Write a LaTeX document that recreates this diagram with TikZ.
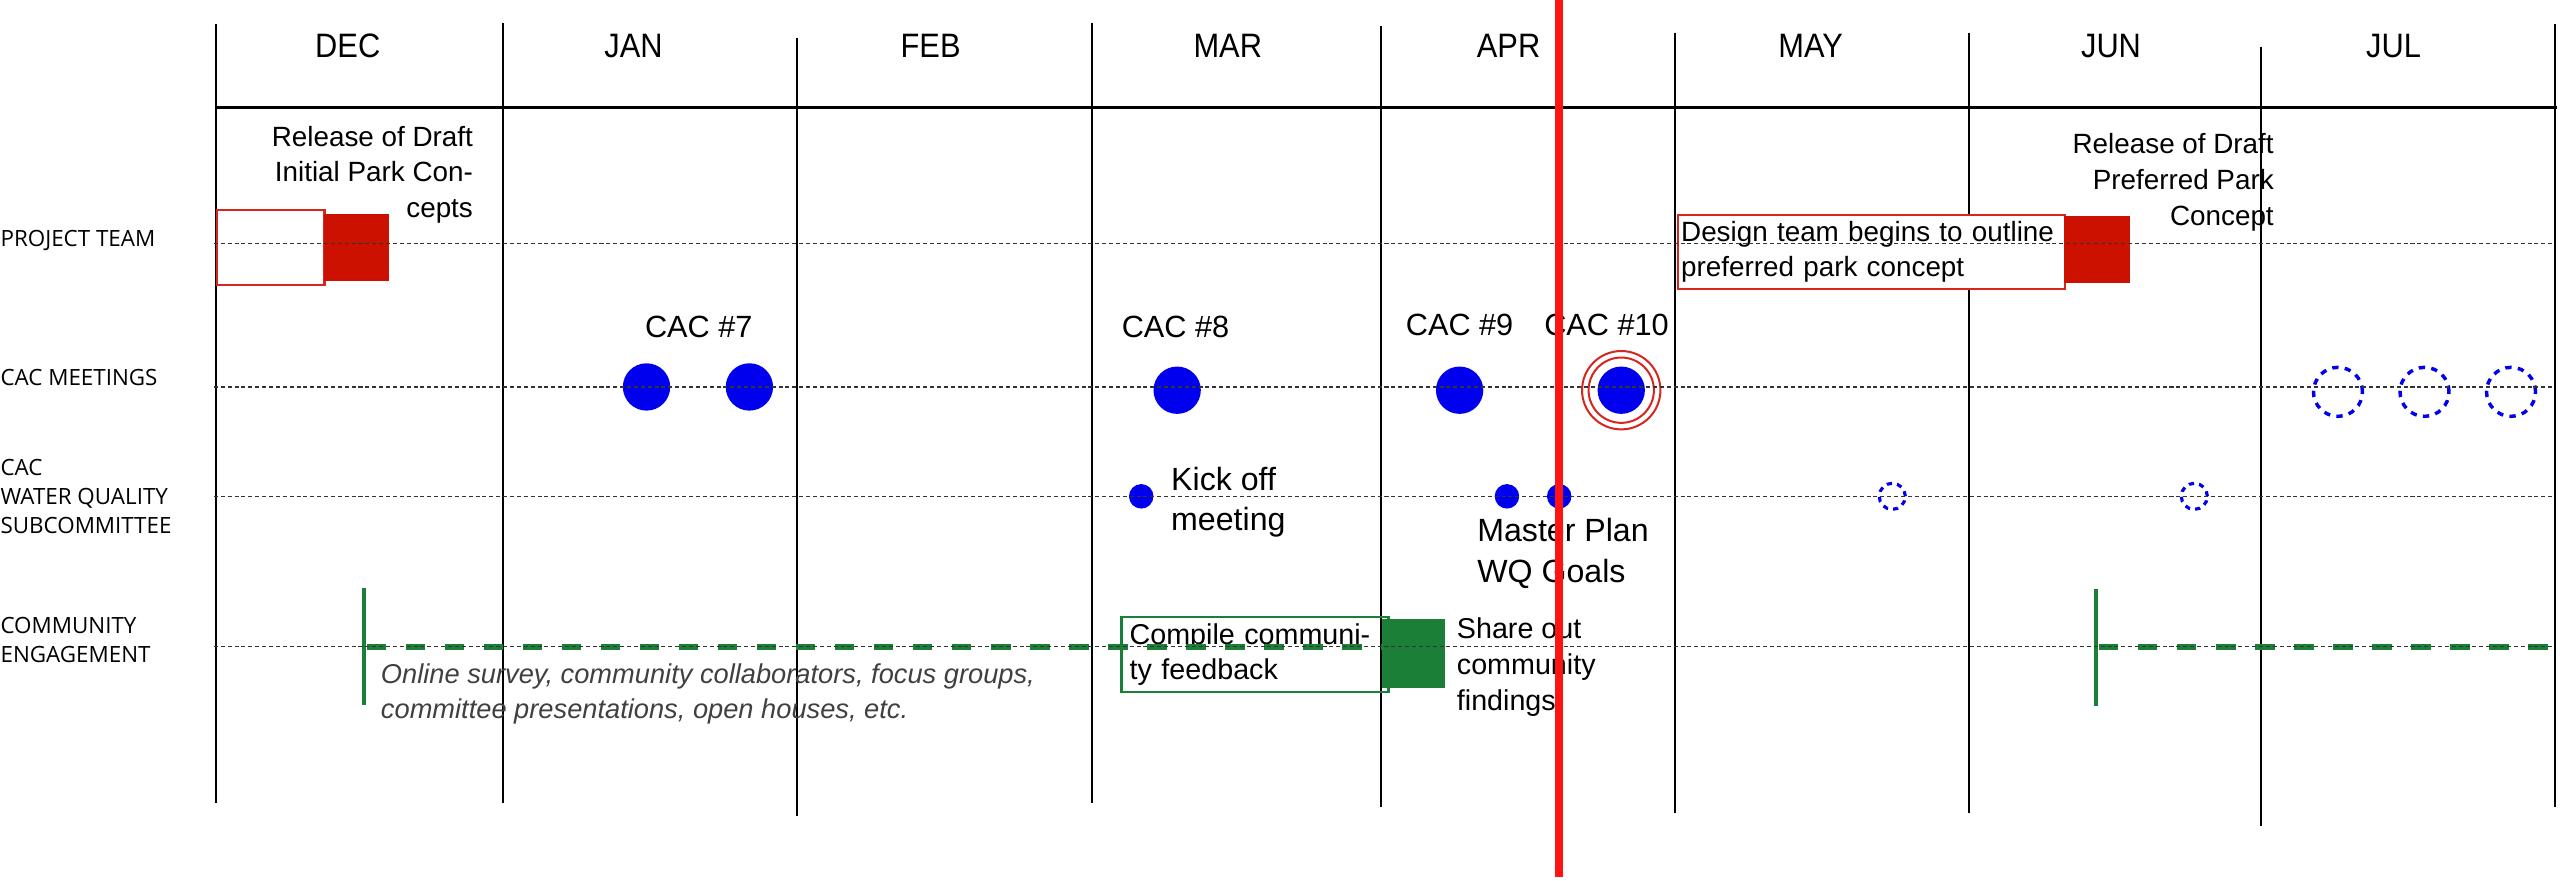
\documentclass[tikz,border=0pt]{standalone}
\usepackage{fontspec}
\setmainfont{Liberation Sans}
\newfontfamily\monthfont{Liberation Sans}[FakeStretch=0.91]
\newfontfamily\labelfont{Open Sans}
\definecolor{teamred}{RGB}{204,17,0}
\definecolor{boxred}{RGB}{214,38,32}
\definecolor{nowred}{RGB}{255,20,20}
\definecolor{cacblue}{RGB}{0,0,238}
\definecolor{enggreen}{RGB}{27,127,55}
\tikzset{
  monthline/.style={line width=0.7pt},
  headline/.style={line width=1.1pt},
  rowline/.style={line width=0.5pt, black!80, dash pattern=on 1.4pt off 1pt},
  nowline/.style={line width=2.8pt, nowred},
  monthname/.style={inner sep=0pt, font=\monthfont\fontsize{11.8}{14}\selectfont},
  rowlabel/.style={anchor=west, inner sep=0pt, align=left, font=\labelfont\fontsize{7.8}{10}\selectfont},
  note/.style={inner sep=0pt, font=\fontsize{9.7}{12.5}\selectfont},
  bignote/.style={inner sep=0pt, anchor=west, align=left, font=\fontsize{11.2}{14}\selectfont},
  caclabel/.style={inner sep=0pt, font=\fontsize{10.7}{13}\selectfont},
  draftbox/.style={draw=boxred, line width=0.8pt, fill=white, inner sep=0pt, anchor=north west},
  release/.style={fill=teamred, inner sep=0pt, minimum width=8mm, minimum height=8.2mm, anchor=north west},
  meeting/.style={circle, fill=cacblue, inner sep=0pt, minimum size=5.8mm},
  nextmeeting/.style={circle, draw=cacblue, line width=1.2pt, dash pattern=on 2.2pt off 2.2pt, inner sep=0pt, minimum size=6mm},
  ring/.style={draw=boxred, line width=0.7pt},
  wqdot/.style={circle, fill=cacblue, inner sep=0pt, minimum size=3mm},
  wqnext/.style={circle, draw=cacblue, line width=1.1pt, dash pattern=on 1.8pt off 1.8pt, inner sep=0pt, minimum size=3.2mm},
  engbar/.style={fill=enggreen, inner sep=0pt, minimum width=1.4pt, minimum height=14.4mm},
  engage/.style={enggreen, line width=2.1pt, dash pattern=on 6.8pt off 6.8pt},
  compilebox/.style={draw=enggreen, line width=1pt, inner xsep=1mm, inner ysep=0pt, text width=30.7mm, minimum height=9.2mm, align=left, anchor=north west, font=\fontsize{10}{12.4}\selectfont},
  sharebox/.style={fill=enggreen, inner sep=0pt, minimum width=7.7mm, minimum height=8.4mm, anchor=north west},
  survey/.style={inner sep=0pt, anchor=west, align=left, text=black!75, font=\fontsize{9.5}{12.2}\selectfont\itshape}
}
\newcommand{\drawrowlabel}[3]{
  \node[rowlabel] (#1) at (0,#2) {#3};
}
\newcommand{\drawrelease}[3]{
  \node[release] (#1) at (#2,#3) {};
}
\newcommand{\drawmeeting}[3]{
  \node[meeting] (#1) at (#2,#3) {};
}

\begin{document}
\begin{tikzpicture}[x=0.2mm, y=-0.2mm]
  \useasboundingbox (0,0) rectangle (1568,539);
  % months
  \foreach \x/\t/\b in {132/15/492, 308/14/492, 488/23/500, 669/14/492, 846/16/494, 1026/20/498, 1206/20/498, 1385/29/506, 1565/15/494}
    \draw[monthline] (\x,\t) -- (\x,\b);
  \draw[headline] (132,66) -- (1566,66);
  \foreach \m/\x in {DEC/213, JAN/388, FEB/570, MAR/752, APR/924, MAY/1109, JUN/1293, JUL/1466}
    \node[monthname] (\m) at (\x,28) {\m};

  \drawrowlabel{team}{147}{PROJECT TEAM}
  \drawrowlabel{meetings}{231}{CAC MEETINGS}
  \drawrowlabel{wq}{304}{CAC\\WATER QUALITY\\SUBCOMMITTEE}
  \drawrowlabel{engagement}{392}{COMMUNITY\\ENGAGEMENT}

  % project team
  \node[draftbox, minimum width=13.2mm, minimum height=9.2mm] (initial) at (132,128) {};
  \drawrelease{initialrel}{198}{131}
  \node[note, anchor=east, align=right] (initialtxt) at (290,107) {Release of Draft\\Initial Park Con-\\cepts};
  \node[draftbox, inner xsep=0.4mm, text width=46.6mm, minimum height=9.1mm, align=left, font=\fontsize{9.7}{12.2}\selectfont] (design) at (1027,131) {Design team begins to outline\\preferred park concept};
  \drawrelease{preferredrel}{1264}{132}
  \node[note, anchor=east, align=right] (preferredtxt) at (1393,111.5) {Release of Draft\\Preferred Park\\Concept};

  % cac meetings
  \drawmeeting{cacseven}{396}{237}
  \drawmeeting{cacsevenb}{459}{237}
  \drawmeeting{caceight}{721}{239}
  \drawmeeting{cacnine}{894}{239}
  \drawmeeting{cacten}{993}{239}
  \draw[ring] (cacten.center) circle[radius=4mm] (cacten.center) circle[radius=4.8mm];
  \node[caclabel] (lab7) at (428,200) {CAC \#7};
  \node[caclabel] (lab8) at (720,200) {CAC \#8};
  \node[caclabel] (lab9) at (894,199) {CAC \#9};
  \node[caclabel] (lab10) at (984,199) {CAC \#10};
  \foreach \x [count=\i] in {1432,1485,1538}
    \node[nextmeeting] (next\i) at (\x,240) {};

  % water quality
  \node[wqdot] (kickoff) at (699,304) {};
  \node[wqdot] (goals1) at (923,304) {};
  \node[wqdot] (goals2) at (955,304) {};
  \node[wqnext] (wqnext1) at (1159,304) {};
  \node[wqnext] (wqnext2) at (1344,304) {};
  \node[bignote] (kicktxt) at (717,307.5) {Kick off\\meeting};
  \node[bignote] (goalstxt) at (904.5,339) {Master Plan\\WQ Goals};

  % community engagement
  \node[engbar] (start1) at (223,396) {};
  \node[compilebox] (compile) at (686,377) {Compile communi-\\ty feedback};
  \node[sharebox] (share) at (846,379) {};
  \draw[engage] (start1) -- (start1 -| share.west);
  \node[note, anchor=west, align=left, font=\fontsize{10}{12.5}\selectfont] (sharetxt) at (892,408.5) {Share out\\community\\findings};
  \node[survey] (surveytxt) at (233,425) {Online survey, community collaborators, focus groups,\\committee presentations, open houses, etc.};
  \node[engbar] (start2) at (1284,396.5) {};
  \coordinate (edge) at (1568,396.5);
  \draw[engage] (start2) -- (edge);

  \foreach \y in {149,237,304,396}
    \draw[rowline] (131,\y) -- (1563,\y);
  % today
  \draw[nowline] (955,0) -- (955,537);
\end{tikzpicture}
\end{document}
